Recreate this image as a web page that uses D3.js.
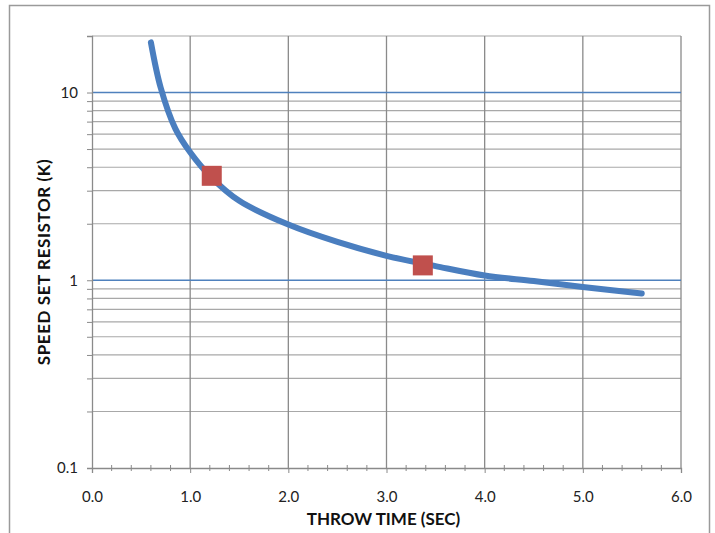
<!DOCTYPE html>
<html>
<head>
<meta charset="utf-8">
<script src="https://cdn.jsdelivr.net/npm/d3@7"></script>
<style>
  body { margin: 0; background: #fff; }
  text { font-family: Lato, "Open Sans", sans-serif; }
</style>
</head>
<body>
<div id="chart"></div>
<script>
// curve
const throwTime = [0.6, 0.7, 0.85, 1.0, 1.2, 1.5, 2.0, 2.5, 3.0, 3.5, 4.0, 4.5, 5.0, 5.6];
const resistor  = [18.5, 10.6, 6.4, 4.8, 3.6, 2.65, 1.98, 1.6, 1.35, 1.19, 1.06, 0.99, 0.92, 0.85];

// highlighted points
const markTime = [1.22, 3.37];
const markRes  = [3.6, 1.2];

const xTicks = [0, 1, 2, 3, 4, 5, 6];
const yMajor = [0.1, 1, 10];

const width = 715, height = 533;
const margin = {top: 36, right: 34, bottom: 65, left: 92};

const svg = d3.select('#chart').append('svg')
  .attr('width', width).attr('height', height);

// outer frame
svg.append('rect')
  .attr('x', 9.5).attr('y', 5.5)
  .attr('width', 700).attr('height', 540)
  .attr('fill', 'none').attr('stroke', '#9a9a9a').attr('stroke-width', 1.5);

const x = d3.scaleLinear().domain([0, 6]).range([margin.left, width - margin.right]);
const y = d3.scaleLog().domain([0.1, 20]).range([height - margin.bottom, margin.top]);

// minor horizontal grid
const yMinor = [];
[0.1, 1, 10].forEach(d => {
  for (let k = 2; k <= 9; k++) {
    if (d * k <= 20) yMinor.push(d * k);
  }
});

svg.append('g').selectAll('line')
  .data(yMinor)
  .enter().append('line')
  .attr('x1', x(0)).attr('x2', x(6))
  .attr('y1', d => y(d)).attr('y2', d => y(d))
  .attr('stroke', '#a8a8a8').attr('stroke-width', 1.2);

// vertical grid
svg.append('g').selectAll('line')
  .data(xTicks.slice(1))
  .enter().append('line')
  .attr('x1', d => x(d)).attr('x2', d => x(d))
  .attr('y1', y(20)).attr('y2', y(0.1))
  .attr('stroke', '#8a8a8a').attr('stroke-width', 1.3);

// major horizontal grid (blue)
svg.append('g').selectAll('line')
  .data([1, 10])
  .enter().append('line')
  .attr('x1', x(0)).attr('x2', x(6))
  .attr('y1', d => y(d)).attr('y2', d => y(d))
  .attr('stroke', '#4f81bd').attr('stroke-width', 1.5);

// y axis
const yAxis = d3.axisLeft(y)
  .tickValues(yMinor.concat(yMajor))
  .tickSize(5)
  .tickFormat(d => yMajor.includes(d) ? d3.format('~g')(d) : '');

const gy = svg.append('g')
  .attr('transform', `translate(${x(0)},0)`)
  .call(yAxis);
gy.select('.domain').attr('stroke', '#8a8a8a').attr('stroke-width', 1.3);
gy.selectAll('.tick line').attr('stroke', '#8a8a8a');
gy.selectAll('.tick text')
  .attr('x', -14)
  .attr('font-size', 15).attr('fill', '#222');

// x axis
const xAxis = d3.axisBottom(x)
  .tickValues(xTicks)
  .tickSize(5)
  .tickPadding(18)
  .tickFormat(d3.format('.1f'));

const gx = svg.append('g')
  .attr('transform', `translate(0,${y(0.1)})`)
  .call(xAxis);
gx.select('.domain').attr('stroke', '#8a8a8a').attr('stroke-width', 1.3);
gx.selectAll('.tick line').attr('stroke', '#8a8a8a');
gx.selectAll('.tick text').attr('font-size', 15).attr('fill', '#222');

// x minor ticks
gx.append('g').selectAll('line')
  .data(d3.range(0.2, 6, 0.2).filter(d => Math.abs(d - Math.round(d)) > 0.01))
  .enter().append('line')
  .attr('x1', d => x(d)).attr('x2', d => x(d))
  .attr('y1', -3).attr('y2', 3)
  .attr('stroke', '#8a8a8a');

// axis titles
svg.append('text')
  .attr('x', (x(0) + x(6)) / 2 - 3).attr('y', 525)
  .attr('text-anchor', 'middle')
  .attr('font-size', 17).attr('font-weight', 'bold')
  .attr('fill', '#111')
  .text('THROW TIME (SEC)');

svg.append('text')
  .attr('transform', `translate(50,262) rotate(-90)`)
  .attr('text-anchor', 'middle')
  .attr('font-size', 17).attr('font-weight', 'bold')
  .attr('letter-spacing', 0.6)
  .attr('fill', '#111')
  .text('SPEED SET RESISTOR (K)');

// curve
const line = d3.line()
  .x(d => x(d[0]))
  .y(d => y(d[1]))
  .curve(d3.curveCatmullRom.alpha(0.5));

svg.append('path')
  .datum(d3.zip(throwTime, resistor))
  .attr('d', line)
  .attr('fill', 'none')
  .attr('stroke', '#4a7ebf')
  .attr('stroke-width', 6)
  .attr('stroke-linecap', 'round')
  .attr('stroke-linejoin', 'round');

// markers
svg.append('g').selectAll('rect')
  .data(d3.zip(markTime, markRes))
  .enter().append('rect')
  .attr('x', d => x(d[0]) - 10).attr('y', d => y(d[1]) - 10)
  .attr('width', 20).attr('height', 20)
  .attr('fill', '#c0504d');
</script>
</body>
</html>
